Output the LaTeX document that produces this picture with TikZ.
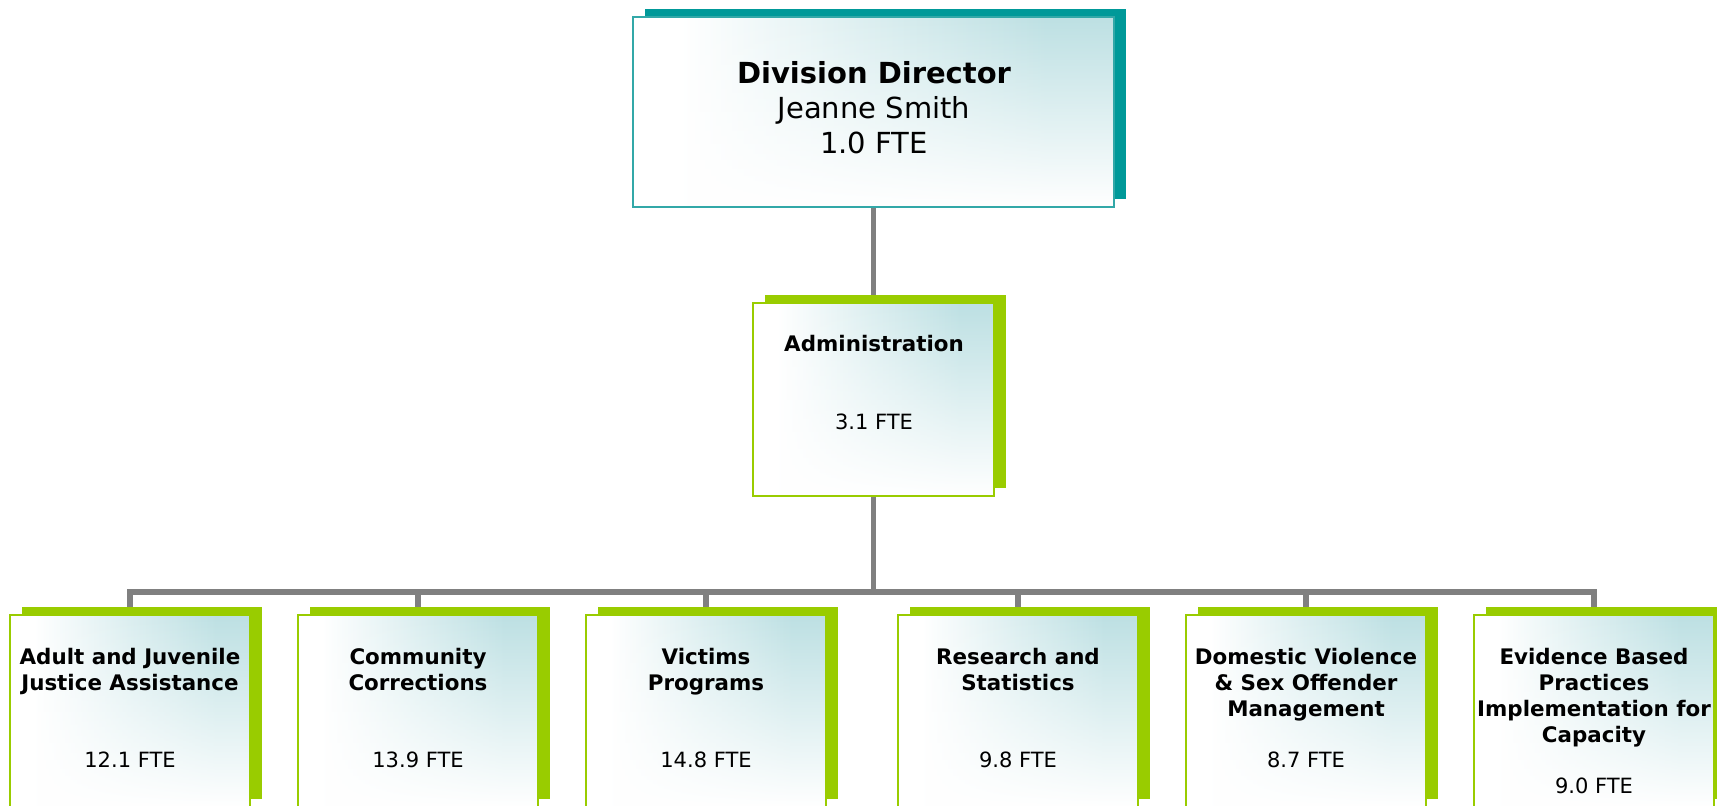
\documentclass[tikz,border=0pt]{standalone}
\usepackage{fontspec}
\setmainfont{DejaVu Sans}
\usetikzlibrary{fit,fadings}
\definecolor{tealD}{RGB}{0,153,153}
\definecolor{tealB}{RGB}{50,168,168}
\definecolor{tealL}{RGB}{189,224,227}
\definecolor{grn}{RGB}{153,204,0}
\definecolor{conngray}{RGB}{128,128,128}
\pgfdeclarelayer{background}
\pgfsetlayers{background,main}
\pgfdeclarehorizontalshading{hglow}{100bp}{color(0bp)=(white); color(30bp)=(white); color(50bp)=(tealL!55!white); color(68bp)=(tealL); color(100bp)=(tealL)}
\tikzfading[name=vfade, top color=transparent!0, middle color=transparent!40, bottom color=transparent!100]
\newcommand\obox[7]{%
  \fill[#6] (#2+11.5,#3-8) rectangle (#4+11.5,#5-8);
  \fill[white] (#2,#3) rectangle (#4,#5);
  \shade[shading=hglow, path fading=vfade] (#2,#3) rectangle (#4,#5);
  \node[fit={(#2,#3) (#4,#5)}, inner sep=0pt, draw=#7, line width=1pt] (#1) {};
}
\newcommand\firstline[1]{\rule{0pt}{#1}}
\tikzset{
  conn/.style={draw=conngray, line width=2.8pt},
  toptext/.style={font=\fontsize{14.5}{17.65}\selectfont, align=center, inner sep=0pt, anchor=north},
  ttitle/.style={font=\fontsize{10.7}{13}\selectfont\bfseries, align=center, inner sep=0pt, anchor=north},
  fte/.style={font=\fontsize{10.5}{13}\selectfont, inner sep=0pt, anchor=base},
}
\begin{document}
\begin{tikzpicture}[x=0.5pt, y=-0.5pt]
\useasboundingbox (0,0) rectangle (1717,806);
% boxes
\obox{dir}{633}{17}{1114}{207}{tealD}{tealB}
\obox{adm}{753}{303}{994}{496}{grn}{grn}
\obox{c1}{10}{615}{250}{807}{grn}{grn}
\obox{c2}{298}{615}{538}{807}{grn}{grn}
\obox{c3}{586}{615}{826}{807}{grn}{grn}
\obox{c4}{898}{615}{1138}{807}{grn}{grn}
\obox{c5}{1186}{615}{1426}{807}{grn}{grn}
\obox{c6}{1474}{615}{1714}{807}{grn}{grn}
% texts
\node[toptext] (dirt) at (874,59) {\firstline{12pt}\textbf{Division Director}\\Jeanne Smith\\1.0 FTE};
\node[ttitle, anchor=base] (admt) at (874,351.7) {Administration};
\node[fte] (admf) at (874,430) {3.1 FTE};
\node[ttitle] (t1) at (130,644) {\firstline{10pt}Adult and Juvenile\\Justice Assistance};
\node[ttitle] (t2) at (418,644) {\firstline{10pt}Community\\Corrections};
\node[ttitle] (t3) at (706,644) {\firstline{10pt}Victims\\Programs};
\node[ttitle] (t4) at (1018,644) {\firstline{10pt}Research and\\Statistics};
\node[ttitle] (t5) at (1306,644) {\firstline{10pt}Domestic Violence\\\& Sex Offender\\Management};
\node[ttitle] (t6) at (1594,644) {\firstline{10pt}Evidence Based\\Practices\\Implementation for\\Capacity};
\node[fte] (f1) at (130,767) {12.1 FTE};
\node[fte] (f2) at (418,767) {13.9 FTE};
\node[fte] (f3) at (706,767) {14.8 FTE};
\node[fte] (f4) at (1018,767) {9.8 FTE};
\node[fte] (f5) at (1306,767) {8.7 FTE};
\node[fte] (f6) at (1594,793) {9.0 FTE};
% connectors
\begin{pgfonlayer}{background}
\draw[conn] (dir.south) -- (adm.north);
\foreach \c in {c1,c2,c3,c4,c5,c6}
  \draw[conn] (adm.south) -- ++(0,95) -| (\c.north);
\end{pgfonlayer}
\end{tikzpicture}
\end{document}
